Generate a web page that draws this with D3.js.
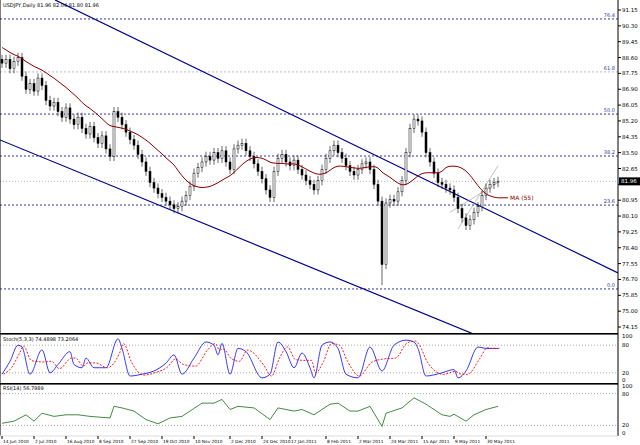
<!DOCTYPE html>
<html><head><meta charset="utf-8">
<script src="https://cdn.jsdelivr.net/npm/d3@7"></script>
<style>body{margin:0;background:#fff}text{font-family:"DejaVu Sans",sans-serif}</style>
</head><body>
<script>
// daily closes, one per bar
const closes = [88.3,88.5,88.0,88.4,88.6,87.6,86.9,87.2,86.8,87.5,87.1,86.3,86.0,86.2,85.7,85.4,85.9,85.3,85.0,85.4,
 84.8,84.5,84.9,84.3,84.0,84.4,83.7,83.3,85.7,85.4,85.0,84.6,84.2,83.9,83.4,83.0,82.5,81.9,81.6,81.3,
 81.1,80.9,80.7,80.5,80.6,80.9,81.2,81.7,82.4,82.7,83.0,83.3,83.1,83.5,83.2,83.6,83.0,82.6,83.7,83.9,
 84.0,83.6,83.3,82.9,82.5,82.1,81.5,81.1,82.5,83.2,83.4,83.0,82.8,83.1,82.6,82.3,82.0,81.8,81.5,82.0,
 82.6,83.2,83.6,83.9,83.5,83.2,82.8,82.5,82.3,82.6,82.9,83.0,82.6,81.8,80.9,77.5,80.8,81.0,80.9,81.4,
 82.0,83.5,84.8,85.3,85.2,84.6,83.5,83.0,82.4,81.9,81.8,81.6,81.5,81.1,80.5,80.0,79.6,79.9,80.3,80.6,
 81.2,81.6,81.8,81.9,81.96];
const extraLow = {95: 76.4};
// closes before the visible window, used to seed the moving average
const priorCloses = [90.6,90.4,90.1,89.9,89.7,89.5,89.2,89.0,88.9,88.7,88.6,88.5,88.4,88.3,88.2];
const priceTicks = [91.15,90.30,89.45,88.60,87.75,86.90,86.05,85.20,84.35,83.50,82.65,81.80,80.95,80.10,79.25,78.40,77.55,76.70,75.85,75.00,74.15];
const fibLevels = [90.67,87.83,85.57,83.32,80.69,76.19];
const fibLabels = ["76.4","61.8","50.0","38.2","23.6","0.0"];
const channelUpper = [[13.25,91.69],[154,77.05]];
const channelLower = [[-0.5,84.18],[154,70.6]];
const stochIdx = [0,2,4,5,7,10,12,14,17,18,20,21,23,26,29,30,32,35,38,41,43,45,48,51,53,54,55,57,59,61,65,67,69,71,73,75,77,78,80,82,84,86,89,92,95,98,101,103,104,106,110,113,114,116,119,121,122,124];
const stochK = [17,45,80,76,17,70,20,38,66,38,31,52,31,31,94,73,13,17,24,41,59,17,52,87,80,59,84,17,73,66,9,17,87,66,31,63,31,9,80,87,73,17,9,76,24,80,91,87,73,13,20,27,9,24,76,73,73,73];
const rsiIdx = [0,3,6,8,10,13,16,19,22,27,28,30,33,36,39,42,45,47,50,53,55,57,59,63,67,69,73,75,78,82,84,87,89,92,95,96,100,103,106,110,112,113,116,118,121,124];
const rsiVals = [24,28,40,28,43,37,40,40,37,34,56,53,47,31,23,34,37,47,62,62,69,50,56,53,31,53,47,50,40,60,62,47,47,56,18,43,53,72,60,40,37,41,28,40,50,56];
const dateIdx = [0,8,16,24,32,40,48,57,65,72,81,89,97,105,113,121];
const dateLabels = ["14 Jun 2010","2 Jul 2010","16 Aug 2010","8 Sep 2010","27 Sep 2010","19 Oct 2010","10 Nov 2010","2 Dec 2010","24 Dec 2010","17 Jan 2011","8 Feb 2011","2 Mar 2011","24 Mar 2011","15 Apr 2011","9 May 2011","30 May 2011"];

const W = 640, H = 445, R = 618;
const svg = d3.select("body").append("svg").attr("width", W).attr("height", H);
const x = d3.scaleLinear().domain([0,124]).range([2,498]);
const y = d3.scaleLinear().domain([91.15,74.15]).range([10,327]);
const ys = d3.scaleLinear().domain([0,100]).range([382,336]);
const yr = d3.scaleLinear().domain([0,100]).range([436,383]);

svg.append("clipPath").attr("id","cm").append("rect").attr("x",0).attr("y",0).attr("width",R).attr("height",333);
const main = svg.append("g").attr("clip-path","url(#cm)");

// fib levels
fibLevels.forEach((v,i) => {
  main.append("line").attr("x1",0).attr("x2",R).attr("y1",y(v)).attr("y2",y(v))
    .attr("stroke", i==1 ? "#aab" : "#00008b").attr("stroke-dasharray","2,2").attr("stroke-width",0.8);
  main.append("text").attr("x",R-3).attr("y",y(v)-2).attr("text-anchor","end")
    .attr("font-size",5).attr("fill","#339").text(fibLabels[i]);
});
main.append("line").attr("x1",0).attr("x2",R).attr("y1",y(81.96)).attr("y2",y(81.96))
  .attr("stroke","#bbb").attr("stroke-dasharray","1,2");

// channel
[channelUpper, channelLower].forEach(c => {
  main.append("line").attr("x1",x(c[0][0])).attr("y1",y(c[0][1])).attr("x2",x(c[1][0])).attr("y2",y(c[1][1]))
    .attr("stroke","#00008b").attr("stroke-width",1.2);
});
main.append("line").attr("x1",x(114)).attr("y1",y(79.4)).attr("x2",x(124)).attr("y2",y(82.8)).attr("stroke","#999").attr("stroke-width",0.6);
main.append("line").attr("x1",x(112)).attr("y1",y(80.3)).attr("x2",x(124)).attr("y2",y(81.9)).attr("stroke","#999").attr("stroke-width",0.6);

// bars
closes.forEach((c,i) => {
  const o = i ? closes[i-1] : c + 0.2;
  const hi = Math.max(o,c) + 0.25, lo = extraLow[i] !== undefined ? extraLow[i] : Math.min(o,c) - 0.25;
  main.append("line").attr("x1",x(i)).attr("x2",x(i)).attr("y1",y(hi)).attr("y2",y(lo)).attr("stroke","#000").attr("stroke-width",0.6);
  main.append("rect").attr("x",x(i)-1).attr("width",2)
    .attr("y",y(Math.max(o,c))).attr("height",Math.max(1,Math.abs(y(o)-y(c))))
    .attr("fill", c>=o ? "#fff" : "#000").attr("stroke","#000").attr("stroke-width",0.5);
});

// moving average
const maP = 16;
const all = priorCloses.concat(closes);
const ma = closes.map((c,i) => { const j = i + priorCloses.length; return d3.mean(all.slice(Math.max(0,j-maP+1), j+1)); });
main.append("path").datum(ma).attr("fill","none").attr("stroke","#8b0000").attr("stroke-width",1)
  .attr("d", d3.line().x((d,i)=>x(i)).y(d=>y(d)).curve(d3.curveBasis));
main.append("line").attr("x1",x(124)).attr("x2",x(124)+10).attr("y1",y(ma[124])).attr("y2",y(ma[124])).attr("stroke","#8b0000");
main.append("text").attr("x",x(124)+12).attr("y",y(ma[124])+2).attr("font-size",6).attr("fill","#8b0000").text("MA (55)");

svg.append("text").attr("x",3).attr("y",7).attr("font-size",5).attr("fill","#000").text("USDJPY,Daily  81.96 82.04 81.80 81.96");

// right axis main
const ax = svg.append("g");
priceTicks.forEach(v => {
  ax.append("line").attr("x1",R).attr("x2",R+3).attr("y1",y(v)).attr("y2",y(v)).attr("stroke","#000");
  if (Math.abs(y(v) - y(81.96)) > 6)
    ax.append("text").attr("x",R+4).attr("y",y(v)+2).attr("font-size",5.5).text(v.toFixed(2));
});
ax.append("rect").attr("x",R+1).attr("y",y(81.96)-4).attr("width",21).attr("height",8).attr("fill","#000");
ax.append("text").attr("x",R+3).attr("y",y(81.96)+2).attr("font-size",5.5).attr("fill","#fff").text("81.96");

// stochastic
const stD = stochK.map((v,i)=>d3.mean(stochK.slice(Math.max(0,i-1), i+1)));
[80,20].forEach(l => svg.append("line").attr("x1",0).attr("x2",R).attr("y1",ys(l)).attr("y2",ys(l)).attr("stroke","#aaa").attr("stroke-dasharray","1,2"));
svg.append("path").datum(stochIdx).attr("fill","none").attr("stroke","#22f").attr("stroke-width",0.9)
  .attr("d", d3.line().x(d=>x(d)).y((d,i)=>ys(stochK[i])).curve(d3.curveMonotoneX));
svg.append("path").datum(stochIdx).attr("fill","none").attr("stroke","#f00").attr("stroke-width",0.9).attr("stroke-dasharray","2,1.5")
  .attr("d", d3.line().x(d=>x(d)+1.5).y((d,i)=>ys(stD[i])).curve(d3.curveMonotoneX));
svg.append("text").attr("x",3).attr("y",341).attr("font-size",5).text("Stoch(5,3,3) 74.4898 73.2064");
[[100,"100",2],[80,"80",2],[20,"20",2],[0,"0",0]].forEach(t => svg.append("text").attr("x",R+4).attr("y",ys(t[0])+t[2]).attr("font-size",5.5).text(t[1]));

// RSI
[80,20].forEach(l => svg.append("line").attr("x1",0).attr("x2",R).attr("y1",yr(l)).attr("y2",yr(l)).attr("stroke","#aaa").attr("stroke-dasharray","1,2"));
svg.append("path").datum(rsiIdx).attr("fill","none").attr("stroke","#2e7d32").attr("stroke-width",0.9)
  .attr("d", d3.line().x(d=>x(d)).y((d,i)=>yr(rsiVals[i])));
svg.append("text").attr("x",3).attr("y",390).attr("font-size",5).text("RSI(14) 56.7989");
[[100,"100",5],[80,"80",2],[20,"20",2],[0,"0",-1]].forEach(t => svg.append("text").attr("x",R+4).attr("y",yr(t[0])+t[2]).attr("font-size",5.5).text(t[1]));

// frames
svg.append("line").attr("x1",R).attr("x2",R).attr("y1",0).attr("y2",436).attr("stroke","#000");
[333,383].forEach(v => svg.append("rect").attr("x",0).attr("y",v).attr("width",R).attr("height",1.6).attr("fill","#000"));
svg.append("line").attr("x1",0).attr("x2",0).attr("y1",0).attr("y2",436).attr("stroke","#000");
svg.append("line").attr("x1",0).attr("x2",R).attr("y1",436).attr("y2",436).attr("stroke","#ddd");

// dates
dateIdx.forEach((d,i) => {
  svg.append("line").attr("x1",x(d)).attr("x2",x(d)).attr("y1",436).attr("y2",439).attr("stroke","#000");
  svg.append("text").attr("x",x(d)+1).attr("y",443).attr("font-size",4.3).text(dateLabels[i]);
});
</script>
</body></html>
